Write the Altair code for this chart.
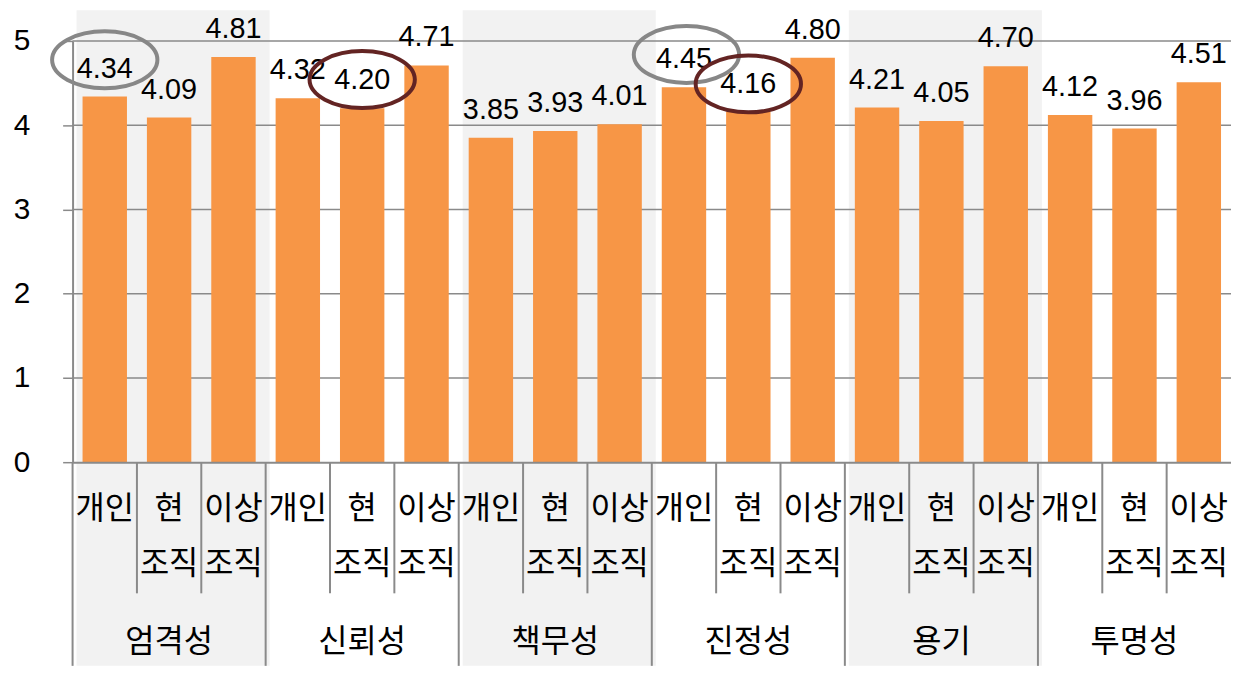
import altair as alt
import pandas as pd

groups = ["엄격성", "신뢰성", "책무성", "진정성", "용기", "투명성"]
subs = ["개인", "현 조직", "이상 조직"]
personal = [4.34, 4.32, 3.85, 4.45, 4.21, 4.12]
current_org = [4.09, 4.20, 3.93, 4.16, 4.05, 3.96]
ideal_org = [4.81, 4.71, 4.01, 4.80, 4.70, 4.51]
y_ticks = [0, 1, 2, 3, 4, 5]
shaded_groups = ["엄격성", "책무성", "용기"]

series = [personal, current_org, ideal_org]
rows = []
for gi, g in enumerate(groups):
    for si, s in enumerate(subs):
        rows.append({"key": f"{g}|{s}", "group": g, "sub": s,
                     "value": series[si][gi], "is_start": si == 0,
                     "is_mid": si == 1})
df = pd.DataFrame(rows)
keys = list(df["key"])

band_rows = []
for gi, g in enumerate(groups):
    if g in shaded_groups and gi + 1 < len(groups):
        band_rows.append({"key": f"{g}|{subs[0]}", "end": f"{groups[gi+1]}|{subs[0]}"})
df_bands = pd.DataFrame(band_rows)

GRAY = "#8a8a8a"
ORANGE = "#F79646"
x_scale = alt.Scale(domain=keys, paddingInner=0, paddingOuter=0)
y_scale = alt.Scale(domain=[0, 5], nice=False)

x_axis = alt.Axis(
    title=None, ticks=False, domain=True, domainColor=GRAY, domainWidth=2,
    labelExpr="split(split(datum.label, '|')[1], ' ')",
    labelFont="Noto Sans CJK KR", labelFontSize=32, labelLineHeight=55,
    labelBaseline="top", labelPadding=32, labelAngle=0, labelAlign="center",
    labelColor="black", zindex=1, labelOverlap=False, labelLimit=300,
)
y_axis = alt.Axis(
    title=None, values=y_ticks, grid=False, tickSize=10, tickColor=GRAY,
    tickWidth=1.5, domainColor=GRAY, domainWidth=2, labelPadding=33,
    labelFont="Liberation Sans", labelFontSize=30, labelColor="black",
    labelBaseline="middle", zindex=1,
)


def X(field="key:N", **kw):
    return alt.X(field, scale=x_scale, axis=x_axis, **kw)


def Y(field="value:Q"):
    return alt.Y(field, scale=y_scale, axis=y_axis)


bands = alt.Chart(df_bands).mark_rect(color="#F2F2F2", xOffset=4, x2Offset=4).encode(
    x=X(bandPosition=0),
    x2=alt.X2("end:N", bandPosition=0),
    y=alt.value(-31),
    y2=alt.value(629),
)

grid = alt.Chart(pd.DataFrame({"value": y_ticks[1:]})).mark_rule(
    color=GRAY, strokeWidth=1.5).encode(y=Y())

bars = alt.Chart(df).mark_bar(color=ORANGE, width=alt.RelativeBandSize(0.69)).encode(
    x=X(), y=Y())

sub_ticks = alt.Chart(df).transform_filter("!datum.is_start").mark_rule(
    color=GRAY, strokeWidth=2).encode(
    x=X(bandPosition=0), y=alt.value(424), y2=alt.value(556))

group_ticks = alt.Chart(df).transform_filter("datum.is_start").mark_rule(
    color=GRAY, strokeWidth=2).encode(
    x=X(bandPosition=0), y=alt.value(424), y2=alt.value(629))

value_labels = alt.Chart(df).mark_text(
    dy=-28, fontSize=29, font="Liberation Sans", baseline="middle", color="black").encode(
    x=X(), y=Y(), text=alt.Text("value:Q", format=".2f"))

group_labels = alt.Chart(df).transform_filter("datum.is_mid").mark_text(
    fontSize=32, font="Noto Sans CJK KR", baseline="middle", color="black").encode(
    x=X(), y=alt.value(605), text="group:N")

ELLIPSE = ("M 1 0 C 1 0.2982 0.5523 0.54 0 0.54 C -0.5523 0.54 -1 0.2982 -1 0 "
           "C -1 -0.2982 -0.5523 -0.54 0 -0.54 C 0.5523 -0.54 1 -0.2982 1 0 Z")


def ellipse(group, sub, color, dx, dy):
    return alt.Chart(df).transform_filter(
        f"datum.group == '{group}' && datum.sub == '{sub}'").mark_point(
        shape=ELLIPSE, size=11236, filled=False, color=color, strokeWidth=4,
        opacity=1, xOffset=dx, yOffset=dy).encode(x=X(), y=Y())


e1 = ellipse("엄격성", "개인", "#878787", 0, -37)
e2 = ellipse("신뢰성", "현 조직", "#632423", 0, -29)
e3 = ellipse("진정성", "개인", "#878787", 2.5, -33)
e4 = ellipse("진정성", "현 조직", "#632423", 0, -28)

chart = alt.layer(
    bands, grid, bars, sub_ticks, group_ticks, value_labels, group_labels,
    e1, e3, e2, e4
).properties(
    width=1166, height=424,
    autosize=alt.AutoSizeParams(type="none"),
    padding={"left": 65, "top": 31, "right": 0, "bottom": 205},
).configure_view(stroke=None)

chart.save("out.html", embed_options={"renderer": "svg", "actions": False})
